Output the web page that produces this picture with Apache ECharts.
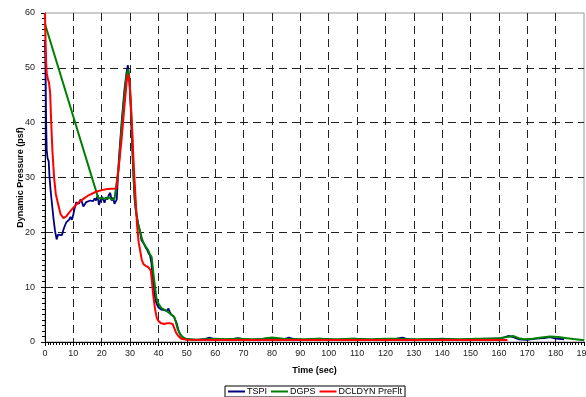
<!DOCTYPE html>
<html>
<head>
<meta charset="utf-8">
<script src="https://cdn.jsdelivr.net/npm/echarts@6/dist/echarts.min.js"></script>
<style>
html,body{margin:0;padding:0;background:#fff;}
#chart{width:586px;height:397px;}
</style>
</head>
<body>
<div id="chart"></div>
<script>
// ---- data ----
const seriesNames = ['TSPI', 'DGPS', 'DCLDYN PreFlt'];
const xTicks = [0,10,20,30,40,50,60,70,80,90,100,110,120,130,140,150,160,170,180,190];
const yTicks = [0,10,20,30,40,50,60];

const tspi = [
  [0,55],[0.2,50],[0.4,40],[0.6,35],[0.9,33.5],[1.3,33],[1.6,30],[2,27.5],[2.5,25],[3,22.5],[3.5,20.4],[4.1,18.7],
  [4.6,19.6],[5.2,19.3],[6,19.5],[6.5,20.5],[7,21.2],[7.5,21.8],[8,21.5],[8.5,22.3],[9,22.8],[9.5,22.3],[10,23.3],
  [10.5,24.5],[11,25.5],[11.5,25.8],[12,25.2],[12.5,26],[13,25.6],[13.5,24.7],[14,25],[14.5,25.5],[15,25.6],[16,25.8],
  [17,25.7],[17.5,26.2],[18,25.8],[18.6,26.8],[19,25],[19.5,25.3],[20,26.5],[20.5,26.3],[21,25.4],[21.5,26.4],[22,26],
  [22.5,26.8],[23,27.2],[23.5,25.8],[24,26.3],[24.5,25.2],[25,25.2],[25.3,26],[26,33],[27,40],[28,46],[28.7,49],
  [29.2,50.5],[29.7,48],[30.2,43],[30.7,36],[31.2,30],[31.6,26],[32,24],[32.5,22.5],[33,21.2],[33.5,20.1],[34,18.6],
  [34.5,18.2],[35,17.8],[35.5,17.2],[36,16.8],[36.5,16.2],[37,15.8],[37.5,14.5],[38,11.5],[38.5,9],[39,7.5],[39.5,6.8],
  [40,6.3],[41,5.9],[42,5.8],[43,5.7],[43.5,6.1],[44,5.5],[44.5,5.0],[45,4.9],[45.5,4.6],[46,4.3],[46.5,3.3],[47,2.2],
  [47.5,1.5],[48,1.1],[49,0.7],[50,0.5],[53,0.4],[56,0.5],[58,0.8],[60,0.5],[63,0.4],[66,0.5],[68,0.7],[70,0.5],
  [73,0.4],[76,0.5],[79,0.7],[81,0.6],[84,0.5],[86,0.8],[88,0.5],[91,0.4],[94,0.5],[97,0.6],[100,0.5],[103,0.4],
  [106,0.5],[109,0.6],[112,0.5],[115,0.4],[118,0.5],[121,0.5],[124,0.6],[126,0.8],[128,0.5],[131,0.4],[134,0.5],
  [137,0.5],[140,0.6],[143,0.5],[146,0.4],[149,0.5],[152,0.5],[155,0.6],[158,0.6],[161,0.7],[163.5,1.1],[165,0.9],
  [167,0.5],[170,0.4],[173,0.6],[176,0.7],[178,0.9],[180,0.6],[183,0.5]
];

const dgps = [
  [0,58],[18.8,26.2],[19.5,26.5],[20.5,26.2],[21.5,26.1],[22.5,26.4],[23.5,26],[24.5,26.1],[25.2,25.8],[26,32],
  [27,39],[28,45],[28.7,48.5],[29.3,49.7],[29.8,48],[30.3,43],[30.8,36],[31.3,29.5],[31.7,26],[32.2,23.5],[32.8,21.5],
  [33.5,20.2],[34.2,18.8],[34.8,18],[35.5,17.4],[36.3,16.8],[37,16],[37.6,15.5],[38.2,12.5],[38.8,10],[39.3,8],[40,7],
  [41,6.2],[42,5.9],[43,5.6],[44,5.2],[44.7,4.9],[45.5,4.6],[46.2,3.5],[46.8,2.3],[47.6,1.5],[48.5,0.9],[49.5,0.6],
  [51,0.5],[54,0.4],[57,0.5],[60,0.6],[64,0.5],[68,0.6],[72,0.5],[76,0.5],[80,0.8],[84,0.6],[88,0.5],[92,0.5],
  [96,0.6],[100,0.5],[104,0.5],[108,0.6],[112,0.5],[116,0.5],[120,0.6],[124,0.6],[128,0.5],[132,0.5],[136,0.5],
  [140,0.5],[144,0.5],[148,0.5],[152,0.6],[156,0.6],[160,0.7],[163,0.9],[165,1.1],[167,0.7],[169,0.5],[172,0.6],
  [175,0.8],[178,1.0],[181,0.9],[184,0.7],[187,0.5],[190,0.3]
];

const dcldyn = [
  [0,60],[0.2,55],[0.4,51],[0.6,49],[1.0,48],[1.4,47.3],[1.8,45.5],[2.2,40],[2.6,35],[3.2,30],[3.8,27],[4.7,25],
  [5.5,23.3],[6.5,22.6],[7.5,22.9],[8.5,23.6],[10,24.5],[11.5,25.3],[13.5,26.1],[15.5,26.8],[18,27.4],[20,27.7],
  [22,27.9],[25.2,28],[26,32],[27,37],[28,43],[28.8,47.5],[29.3,48.9],[29.8,47.5],[30.3,43],[30.8,38],[31.3,32],
  [31.8,27.5],[32.4,21.6],[33,18.2],[33.5,16.8],[34.1,15],[34.7,14.2],[35.5,13.9],[36.5,13.6],[37.3,13],[37.7,11],
  [38.2,8.3],[38.8,6],[39.4,4.4],[40,3.8],[41,3.4],[42,3.3],[43,3.4],[44,3.4],[45,3.3],[45.5,2.6],[46.2,1.7],[47,1.1],
  [48,0.6],[50,0.4],[60,0.35],[80,0.35],[100,0.35],[120,0.35],[140,0.35],[163,0.35]
];

const colors = ['#000080', '#008000', '#FF0000'];
const font = 'Liberation Sans, Arial, sans-serif';

const chart = echarts.init(document.getElementById('chart'), null, {renderer: 'canvas'});
const dataSets = [tspi, dgps, dcldyn];

chart.setOption({
  animation: false,
  backgroundColor: '#fff',
  grid: {left: 45, right: 2, top: 13, bottom: 55, containLabel: false, outerBoundsMode: 'none',
         show: true, borderColor: '#999', borderWidth: 1},
  legend: {
    data: seriesNames,
    bottom: 0,
    left: 225,
    icon: 'rect',
    itemWidth: 17,
    itemHeight: 2,
    itemGap: 4,
    padding: [1, 3],
    borderColor: '#000',
    borderWidth: 1,
    textStyle: {fontFamily: font, fontSize: 9, color: '#000', padding: [0, 0, 0, -3]}
  },
  xAxis: {
    type: 'value',
    min: xTicks[0], max: xTicks[xTicks.length - 1], interval: 10,
    name: 'Time (sec)', nameLocation: 'middle', nameGap: 24, nameMoveOverlap: false,
    nameTextStyle: {fontFamily: font, fontSize: 9, fontWeight: 'bold', color: '#000'},
    axisLine: {lineStyle: {color: '#000', width: 1}},
    axisTick: {length: 4, lineStyle: {color: '#000'}},
    minorTick: {show: true, splitNumber: 10, length: 3, lineStyle: {color: '#000'}},
    axisLabel: {fontFamily: font, fontSize: 9, color: '#222', margin: 7, showMaxLabel: true},
    splitLine: {show: true, showMinLine: false, showMaxLine: false, lineStyle: {color: '#222', type: [8, 5], width: 1}}
  },
  yAxis: {
    type: 'value',
    min: yTicks[0], max: yTicks[yTicks.length - 1], interval: 10,
    name: 'Dynamic Pressure (psf)', nameLocation: 'middle', nameGap: 20, nameMoveOverlap: false,
    nameTextStyle: {fontFamily: font, fontSize: 9, fontWeight: 'bold', color: '#000'},
    axisLine: {show: true, lineStyle: {color: '#000', width: 1}},
    axisTick: {show: true, length: 4, lineStyle: {color: '#000'}},
    minorTick: {show: true, splitNumber: 10, length: 3, lineStyle: {color: '#000'}},
    axisLabel: {fontFamily: font, fontSize: 9, color: '#222', margin: 10},
    splitLine: {show: true, showMinLine: false, showMaxLine: false, lineStyle: {color: '#222', type: [8, 5], width: 1}}
  },
  series: seriesNames.map((n, i) => ({
    name: n,
    type: 'line',
    data: dataSets[i],
    showSymbol: false,
    symbol: 'none',
    clip: true,
    lineStyle: {color: colors[i], width: i === 0 ? 1.8 : 2},
    itemStyle: {color: colors[i]},
    z: 2 + i
  }))
});
</script>
</body>
</html>
